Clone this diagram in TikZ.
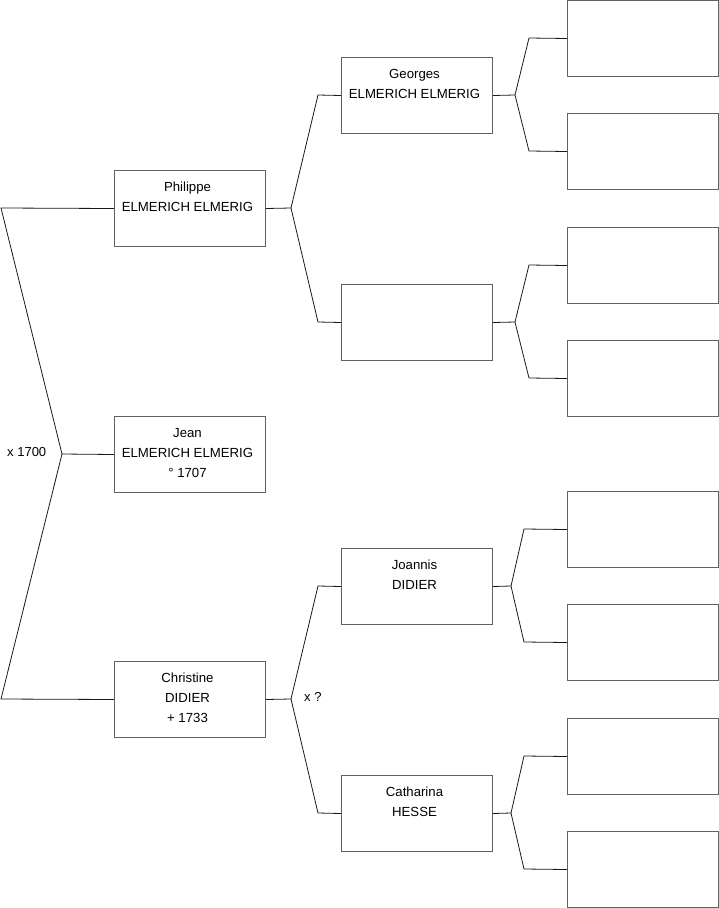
\documentclass[tikz,border=0pt]{standalone}
\usepackage{fontspec}
\setmainfont{Liberation Sans}
\begin{document}
\begin{tikzpicture}[x=1pt,y=-1pt,
  person/.style={draw=black!62, line width=1pt, minimum width=151pt, minimum height=76pt,
    inner sep=0pt, anchor=north west},
  link/.style={draw=black!90, line width=0.8pt, line join=miter},
  lbl/.style={inner sep=0pt, font=\fontsize{13}{20}\selectfont}]
\newcommand\ptext[1]{\parbox[c][76pt][t]{151pt}{\fontsize{13.2}{20}\selectfont\centering\rightskip=5pt plus 1fil\vspace*{7pt}\strut #1\par}}
\useasboundingbox (0,0) rectangle (719,908);
% generation 1-2
\node[person] (P) at (114,170) {\ptext{Philippe\\ELMERICH ELMERIG}};
\node[person] (J) at (114,416) {\ptext{Jean\\ELMERICH ELMERIG\\° 1707}};
\node[person] (C) at (114,661) {\ptext{Christine\\DIDIER\\+ 1733}};
% generation 3
\node[person] (G) at (341,57) {\ptext{Georges\\ELMERICH ELMERIG}};
\node[person] (E) at (341,284) {\ptext{}};
\node[person] (Jo) at (341,548) {\ptext{Joannis\\DIDIER}};
\node[person] (Ca) at (341,775) {\ptext{Catharina\\HESSE}};
% generation 4
\node[person] (R1) at (567,0) {\ptext{}};
\node[person] (R2) at (567,113) {\ptext{}};
\node[person] (R3) at (567,227) {\ptext{}};
\node[person] (R4) at (567,340) {\ptext{}};
\node[person] (R5) at (567,491) {\ptext{}};
\node[person] (R6) at (567,604) {\ptext{}};
\node[person] (R7) at (567,718) {\ptext{}};
\node[person] (R8) at (567,831) {\ptext{}};
% fork points
\coordinate (f1) at (62,454);
\coordinate (a1) at (1,208);
\coordinate (b1) at (1,699);
\coordinate (f2) at (291,208);
\coordinate (a2) at (318,95);
\coordinate (b2) at (318,322);
\coordinate (f3) at (291,699);
\coordinate (a3) at (318,586);
\coordinate (b3) at (318,813);
\coordinate (f4) at (515,95);
\coordinate (a4) at (529,38);
\coordinate (b4) at (529,151);
\coordinate (f5) at (515,322);
\coordinate (a5) at (529,265);
\coordinate (b5) at (529,378);
\coordinate (f6) at (511,586);
\coordinate (a6) at (524,529);
\coordinate (b6) at (524,642);
\coordinate (f7) at (511,813);
\coordinate (a7) at (524,756);
\coordinate (b7) at (524,869);
% connectors
\draw[link] (J.west) -- (f1) -- (a1) -- (P.west);
\draw[link] (f1) -- (b1) -- (C.west);
\draw[link] (P.east) -- (f2) -- (a2) -- (G.west);
\draw[link] (f2) -- (b2) -- (E.west);
\draw[link] (C.east) -- (f3) -- (a3) -- (Jo.west);
\draw[link] (f3) -- (b3) -- (Ca.west);
\draw[link] (G.east) -- (f4) -- (a4) -- (R1.west);
\draw[link] (f4) -- (b4) -- (R2.west);
\draw[link] (E.east) -- (f5) -- (a5) -- (R3.west);
\draw[link] (f5) -- (b5) -- (R4.west);
\draw[link] (Jo.east) -- (f6) -- (a6) -- (R5.west);
\draw[link] (f6) -- (b6) -- (R6.west);
\draw[link] (Ca.east) -- (f7) -- (a7) -- (R7.west);
\draw[link] (f7) -- (b7) -- (R8.west);
% marriage labels
\node[lbl, anchor=west] (m1) at (7,452) {x 1700};
\node[lbl, anchor=west] (m2) at (304,697) {x ?};
\end{tikzpicture}
\end{document}
